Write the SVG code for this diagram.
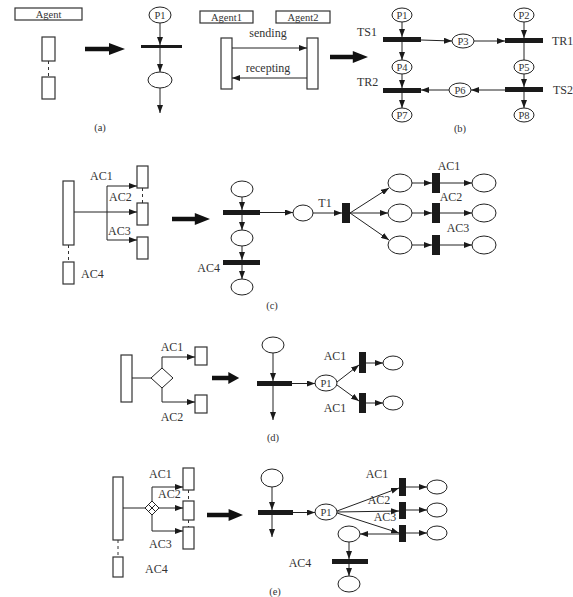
<svg xmlns="http://www.w3.org/2000/svg" width="573" height="597" viewBox="0 0 573 597">
<defs>
<marker id="ah" markerUnits="userSpaceOnUse" markerWidth="8" markerHeight="6" refX="8" refY="3" orient="auto"><path d="M0,0 L8,3 L0,6 z" fill="#1a1a1a"/></marker>
<path id="big" d="M0,-2.2 L24,-2.2 L24,-6 L40,0 L24,6 L24,2.2 L0,2.2 z" fill="#111"/>
<style>
.ln{stroke:#222;stroke-width:1;fill:none}
.a{marker-end:url(#ah)}
.box{fill:#fff;stroke:#333;stroke-width:1.2}
.pl{fill:#fff;stroke:#222;stroke-width:1}
.bar{fill:#1a1a1a}
.dash{stroke:#333;stroke-width:1;stroke-dasharray:3,3}
.t{font-family:"Liberation Serif","Times New Roman",serif;font-size:12px;fill:#333}
.s{font-size:10.5px}
.m{text-anchor:middle}
.e{text-anchor:end}
</style>
</defs>
<rect width="573" height="597" fill="#fff"/>

<!-- (a) -->
<g id="a-agent"><rect class="box" x="15" y="8" width="67" height="12"/><text class="t m s" x="48.5" y="18">Agent</text></g>
<g id="a-life"><rect class="box" x="42" y="37" width="13" height="24"/><line class="dash" x1="48.5" y1="61" x2="48.5" y2="77"/><rect class="box" x="42" y="77" width="13" height="22"/></g>
<g id="a-p1"><ellipse class="pl" cx="160" cy="15" rx="11" ry="8"/><text class="t m s" x="160" y="19">P1</text></g>
<g id="a-bar"><rect class="bar" x="141" y="45" width="41" height="3"/></g>
<g id="a-pl"><ellipse class="pl" cx="160" cy="80" rx="12" ry="8"/></g>
<text class="t m s" x="100" y="131">(a)</text>

<!-- (b) -->
<g id="b-agent1"><rect class="box" x="200" y="11" width="53" height="12"/><text class="t m s" x="226.5" y="21">Agent1</text></g>
<g id="b-agent2"><rect class="box" x="276" y="11" width="54" height="12"/><text class="t m s" x="303" y="21">Agent2</text></g>
<g id="b-life1"><rect class="box" x="221" y="38" width="11" height="51"/></g>
<g id="b-life2"><rect class="box" x="307" y="38" width="11" height="51"/></g>
<text class="t m" x="268" y="37">sending</text>
<text class="t m" x="268" y="72">recepting</text>
<g id="b-P1"><ellipse class="pl" cx="402" cy="15" rx="10" ry="7"/><text class="t m s" x="402" y="19">P1</text></g>
<g id="b-P2"><ellipse class="pl" cx="524" cy="15" rx="10" ry="7"/><text class="t m s" x="524" y="19">P2</text></g>
<g id="b-P3"><ellipse class="pl" cx="463" cy="41" rx="11" ry="7"/><text class="t m s" x="463" y="45">P3</text></g>
<g id="b-P4"><ellipse class="pl" cx="402" cy="67" rx="10" ry="7"/><text class="t m s" x="402" y="71">P4</text></g>
<g id="b-P5"><ellipse class="pl" cx="524" cy="67" rx="10" ry="7"/><text class="t m s" x="524" y="71">P5</text></g>
<g id="b-P6"><ellipse class="pl" cx="460" cy="90" rx="11" ry="7"/><text class="t m s" x="460" y="94">P6</text></g>
<g id="b-P7"><ellipse class="pl" cx="402" cy="115" rx="10" ry="7"/><text class="t m s" x="402" y="119">P7</text></g>
<g id="b-P8"><ellipse class="pl" cx="524" cy="115" rx="10" ry="7"/><text class="t m s" x="524" y="119">P8</text></g>
<g id="b-TS1"><rect class="bar" x="383" y="37" width="38" height="5"/><text class="t" x="357" y="36">TS1</text></g>
<g id="b-TR1"><rect class="bar" x="505" y="38" width="38" height="5"/><text class="t" x="552" y="45">TR1</text></g>
<g id="b-TR2"><rect class="bar" x="383" y="88" width="38" height="5"/><text class="t" x="357" y="86">TR2</text></g>
<g id="b-TS2"><rect class="bar" x="505" y="87" width="38" height="5"/><text class="t" x="553" y="94">TS2</text></g>
<text class="t m s" x="460" y="132">(b)</text>

<!-- (c) -->
<g id="c-main"><rect class="box" x="63" y="181" width="11" height="64"/><line class="dash" x1="68.5" y1="245" x2="68.5" y2="262"/></g>
<g id="c-ac4"><rect class="box" x="63" y="262" width="11" height="22"/><text class="t" x="81" y="278">AC4</text></g>
<g id="c-ac1"><rect class="box" x="137" y="166" width="11" height="22"/><text class="t" x="90" y="180">AC1</text></g>
<line class="dash" x1="142.5" y1="188" x2="142.5" y2="203"/>
<g id="c-ac2"><rect class="box" x="137" y="203" width="11" height="22"/><text class="t" x="109" y="201">AC2</text></g>
<g id="c-ac3"><rect class="box" x="137" y="237" width="11" height="22"/><text class="t" x="108" y="235">AC3</text></g>
<g id="c-p0"><ellipse class="pl" cx="242" cy="189" rx="11" ry="8"/></g>
<g id="c-t0"><rect class="bar" x="223" y="210" width="37" height="5"/></g>
<g id="c-p1"><ellipse class="pl" cx="242" cy="238" rx="11" ry="8"/></g>
<g id="c-tac4"><rect class="bar" x="223" y="260" width="37" height="5"/><text class="t e" x="220" y="272">AC4</text></g>
<g id="c-p2"><ellipse class="pl" cx="242" cy="287" rx="11" ry="8"/></g>
<g id="c-p3"><ellipse class="pl" cx="303" cy="213" rx="10" ry="8"/></g>
<g id="c-T1"><rect class="bar" x="342" y="203" width="8" height="20"/><text class="t m" x="325" y="207">T1</text></g>
<g id="c-pa"><ellipse class="pl" cx="400" cy="183" rx="12" ry="9"/></g>
<g id="c-pb"><ellipse class="pl" cx="400" cy="213" rx="12" ry="9"/></g>
<g id="c-pc"><ellipse class="pl" cx="400" cy="245" rx="12" ry="9"/></g>
<g id="c-tAC1"><rect class="bar" x="432" y="173" width="8" height="20"/><text class="t m" x="449" y="170">AC1</text></g>
<g id="c-tAC2"><rect class="bar" x="432" y="203" width="8" height="20"/><text class="t m" x="451" y="201">AC2</text></g>
<g id="c-tAC3"><rect class="bar" x="432" y="235" width="8" height="20"/><text class="t m" x="458" y="232">AC3</text></g>
<g id="c-qa"><ellipse class="pl" cx="484" cy="183" rx="12" ry="9"/></g>
<g id="c-qb"><ellipse class="pl" cx="484" cy="213" rx="12" ry="9"/></g>
<g id="c-qc"><ellipse class="pl" cx="484" cy="245" rx="12" ry="9"/></g>
<text class="t m s" x="272" y="309">(c)</text>

<!-- (d) -->
<g id="d-main"><rect class="box" x="121" y="355" width="11" height="47"/></g>
<g id="d-dec"><polygon class="pl" points="162,368 173,378 162,388 151,378"/></g>
<g id="d-ac1"><rect class="box" x="195" y="347" width="12" height="18"/><text class="t m" x="172" y="351">AC1</text></g>
<g id="d-ac2"><rect class="box" x="195" y="395" width="12" height="18"/><text class="t m" x="172" y="421">AC2</text></g>
<g id="d-p0"><ellipse class="pl" cx="273" cy="345" rx="11" ry="8"/></g>
<g id="d-t0"><rect class="bar" x="257" y="381" width="35" height="5"/></g>
<g id="d-P1"><ellipse class="pl" cx="326" cy="383" rx="11" ry="8"/><text class="t m s" x="326" y="387">P1</text></g>
<g id="d-t1"><rect class="bar" x="359" y="352" width="7" height="21"/><text class="t m" x="335" y="360">AC1</text></g>
<g id="d-t2"><rect class="bar" x="359" y="393" width="7" height="20"/><text class="t m" x="335" y="412">AC1</text></g>
<g id="d-q1"><ellipse class="pl" cx="393" cy="363" rx="10" ry="7"/></g>
<g id="d-q2"><ellipse class="pl" cx="393" cy="403" rx="10" ry="7"/></g>
<text class="t m s" x="273" y="441">(d)</text>

<!-- (e) -->
<g id="e-main"><rect class="box" x="113" y="477" width="10" height="63"/><line class="dash" x1="118" y1="540" x2="118" y2="557"/></g>
<g id="e-ac4"><rect class="box" x="113" y="557" width="10" height="20"/><text class="t" x="145" y="573">AC4</text></g>
<g id="e-dec"><polygon class="pl" points="152,501 159,508 152,515 145,508"/><line class="ln" x1="148.5" y1="504.5" x2="155.5" y2="511.5"/><line class="ln" x1="155.5" y1="504.5" x2="148.5" y2="511.5"/></g>
<g id="e-ac1"><rect class="box" x="183" y="468" width="11" height="22"/><text class="t" x="149" y="478">AC1</text></g>
<line class="dash" x1="188.5" y1="490" x2="188.5" y2="501"/>
<g id="e-ac2"><rect class="box" x="183" y="501" width="11" height="19"/><text class="t" x="158" y="498">AC2</text></g>
<line class="dash" x1="188.5" y1="520" x2="188.5" y2="527"/>
<g id="e-ac3"><rect class="box" x="183" y="527" width="11" height="22"/><text class="t" x="149" y="548">AC3</text></g>
<g id="e-p0"><ellipse class="pl" cx="272" cy="478" rx="11" ry="9"/></g>
<g id="e-t0"><rect class="bar" x="258" y="510" width="35" height="5"/></g>
<g id="e-P1"><ellipse class="pl" cx="326" cy="512" rx="11" ry="8"/><text class="t m s" x="326" y="516">P1</text></g>
<g id="e-t1"><rect class="bar" x="399" y="478" width="7" height="18"/><text class="t m" x="377" y="478">AC1</text></g>
<g id="e-t2"><rect class="bar" x="399" y="502" width="7" height="17"/><text class="t m" x="379" y="504">AC2</text></g>
<g id="e-t3"><rect class="bar" x="399" y="525" width="7" height="17"/><text class="t m" x="385" y="521">AC3</text></g>
<g id="e-q1"><ellipse class="pl" cx="437" cy="487" rx="10" ry="7"/></g>
<g id="e-q2"><ellipse class="pl" cx="437" cy="510" rx="10" ry="7"/></g>
<g id="e-q3"><ellipse class="pl" cx="437" cy="533" rx="10" ry="7"/></g>
<g id="e-r1"><ellipse class="pl" cx="349" cy="534" rx="11" ry="8"/></g>
<g id="e-t4"><rect class="bar" x="332" y="559" width="36" height="5"/><text class="t m" x="300" y="567">AC4</text></g>
<g id="e-r2"><ellipse class="pl" cx="349" cy="584" rx="11" ry="8"/></g>
<text class="t m s" x="275" y="595">(e)</text>

<!-- connectors -->
<g id="connectors">
<use href="#big" transform="translate(85,49)"/>
<use href="#big" transform="translate(330,57) scale(0.95,1)"/>
<use href="#big" transform="translate(172,219) scale(0.95,1)"/>
<use href="#big" transform="translate(212,378) scale(0.68,1)"/>
<use href="#big" transform="translate(207,515) scale(0.9,1)"/>
<!-- a -->
<line class="ln a" x1="160" y1="23" x2="160" y2="45"/>
<line class="ln a" x1="160" y1="48" x2="160" y2="72"/>
<line class="ln a" x1="160" y1="88" x2="160" y2="113"/>
<!-- b -->
<line class="ln a" x1="232" y1="48" x2="307" y2="48"/>
<line class="ln a" x1="307" y1="78" x2="232" y2="78"/>
<line class="ln a" x1="402" y1="22" x2="402" y2="37"/>
<line class="ln a" x1="421" y1="40" x2="452" y2="41"/>
<line class="ln a" x1="474" y1="41" x2="505" y2="41"/>
<line class="ln a" x1="524" y1="22" x2="524" y2="38"/>
<line class="ln a" x1="402" y1="42" x2="402" y2="60"/>
<line class="ln" x1="524" y1="43" x2="524" y2="60"/>
<line class="ln a" x1="402" y1="74" x2="402" y2="88"/>
<line class="ln a" x1="524" y1="74" x2="524" y2="87"/>
<line class="ln a" x1="505" y1="90" x2="471" y2="90"/>
<line class="ln a" x1="449" y1="90" x2="421" y2="90"/>
<line class="ln a" x1="402" y1="93" x2="402" y2="108"/>
<line class="ln a" x1="524" y1="92" x2="524" y2="108"/>
<!-- c -->
<line class="ln a" x1="74" y1="212" x2="137" y2="212"/>
<line class="ln" x1="107" y1="186" x2="107" y2="240"/>
<line class="ln a" x1="107" y1="186" x2="137" y2="186"/>
<line class="ln a" x1="107" y1="240" x2="137" y2="240"/>
<line class="ln a" x1="242" y1="197" x2="242" y2="210"/>
<line class="ln a" x1="260" y1="212.5" x2="293" y2="212.5"/>
<line class="ln a" x1="242" y1="215" x2="242" y2="230"/>
<line class="ln a" x1="242" y1="246" x2="242" y2="260"/>
<line class="ln a" x1="242" y1="265" x2="242" y2="279"/>
<line class="ln a" x1="313" y1="213" x2="342" y2="213"/>
<line class="ln a" x1="350" y1="213" x2="389" y2="188"/>
<line class="ln a" x1="350" y1="213" x2="388" y2="213"/>
<line class="ln a" x1="350" y1="213" x2="389" y2="240"/>
<line class="ln a" x1="412" y1="183" x2="432" y2="183"/>
<line class="ln a" x1="412" y1="213" x2="432" y2="213"/>
<line class="ln a" x1="412" y1="245" x2="432" y2="245"/>
<line class="ln a" x1="440" y1="183" x2="472" y2="183"/>
<line class="ln a" x1="440" y1="213" x2="472" y2="213"/>
<line class="ln a" x1="440" y1="245" x2="472" y2="245"/>
<!-- d -->
<line class="ln" x1="132" y1="378" x2="151" y2="378"/>
<polyline class="ln a" points="162,368 162,357 195,357"/>
<polyline class="ln a" points="162,388 162,402 195,402"/>
<line class="ln a" x1="273" y1="353" x2="273" y2="381"/>
<line class="ln a" x1="273" y1="386" x2="273" y2="420"/>
<line class="ln a" x1="292" y1="383.5" x2="315" y2="383.5"/>
<line class="ln a" x1="337" y1="382" x2="359" y2="365"/>
<line class="ln a" x1="337" y1="385" x2="359" y2="401"/>
<line class="ln a" x1="366" y1="363" x2="383" y2="363"/>
<line class="ln a" x1="366" y1="403" x2="383" y2="403"/>
<!-- e -->
<line class="ln" x1="123" y1="508" x2="145" y2="508"/>
<polyline class="ln a" points="152,501 152,487 183,487"/>
<line class="ln a" x1="159" y1="508" x2="183" y2="508"/>
<polyline class="ln a" points="152,515 152,531 183,531"/>
<line class="ln a" x1="272" y1="487" x2="272" y2="510"/>
<line class="ln a" x1="272" y1="515" x2="272" y2="537"/>
<line class="ln a" x1="293" y1="512.5" x2="315" y2="512.5"/>
<line class="ln a" x1="337" y1="511" x2="399" y2="488"/>
<line class="ln a" x1="337" y1="512" x2="399" y2="511"/>
<line class="ln a" x1="337" y1="513" x2="399" y2="533"/>
<line class="ln a" x1="406" y1="487" x2="427" y2="487"/>
<line class="ln a" x1="406" y1="510" x2="427" y2="510"/>
<line class="ln a" x1="406" y1="533" x2="427" y2="533"/>
<line class="ln a" x1="399" y1="534" x2="360" y2="534"/>
<line class="ln a" x1="349" y1="542" x2="349" y2="559"/>
<line class="ln a" x1="349" y1="564" x2="349" y2="576"/>
</g>
</svg>
